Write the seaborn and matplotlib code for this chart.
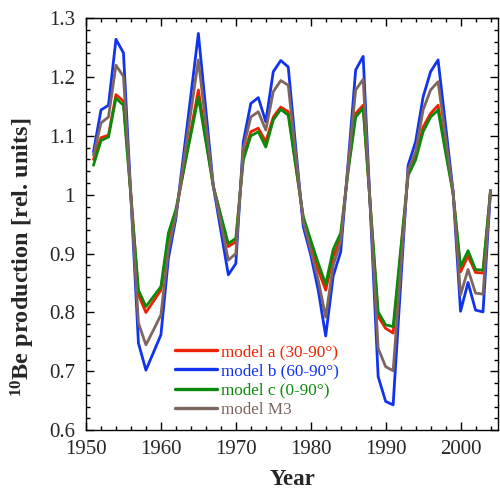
import pandas as pd
import matplotlib
matplotlib.use('Agg')
import matplotlib.pyplot as plt
import seaborn as sns
from matplotlib.ticker import MultipleLocator, FormatStrFormatter

years = list(range(1951, 2005))

model_a = [1.06, 1.097, 1.101, 1.170, 1.159, 1.0, 0.830, 0.800, 0.819, 0.838,
           0.925, 0.970, 1.039, 1.109, 1.178, 1.096, 1.014, 0.963, 0.912, 0.920,
           1.065, 1.107, 1.113, 1.090, 1.132, 1.149, 1.141, 1.050, 0.960, 0.915,
           0.872, 0.838, 0.895, 0.926, 1.045, 1.138, 1.152, 0.972, 0.793, 0.773,
           0.765, 0.900, 1.033, 1.065, 1.115, 1.138, 1.152, 1.078, 1.004, 0.869,
           0.896, 0.868, 0.867, 1.007]
model_b = [1.073, 1.144, 1.152, 1.264, 1.241, 0.995, 0.748, 0.702, 0.732, 0.762,
           0.892, 0.960, 1.065, 1.169, 1.274, 1.144, 1.014, 0.939, 0.864, 0.883,
           1.090, 1.155, 1.165, 1.124, 1.209, 1.228, 1.217, 1.080, 0.946, 0.898,
           0.838, 0.760, 0.862, 0.903, 1.055, 1.212, 1.235, 0.963, 0.691, 0.649,
           0.643, 0.846, 1.050, 1.090, 1.166, 1.209, 1.229, 1.118, 1.006, 0.802,
           0.851, 0.804, 0.801, 1.007]
model_c = [1.050, 1.092, 1.098, 1.164, 1.152, 0.995, 0.838, 0.810, 0.827, 0.844,
           0.935, 0.975, 1.039, 1.102, 1.166, 1.090, 1.014, 0.965, 0.917, 0.926,
           1.059, 1.100, 1.107, 1.081, 1.127, 1.145, 1.135, 1.049, 0.963, 0.923,
           0.884, 0.848, 0.907, 0.935, 1.040, 1.132, 1.147, 0.974, 0.801, 0.779,
           0.776, 0.905, 1.033, 1.059, 1.107, 1.132, 1.144, 1.072, 1.002, 0.878,
           0.905, 0.873, 0.872, 1.007]
model_m3 = [1.067, 1.122, 1.132, 1.220, 1.201, 0.995, 0.782, 0.745, 0.770, 0.796,
            0.906, 0.965, 1.053, 1.141, 1.229, 1.120, 1.014, 0.952, 0.889, 0.900,
            1.079, 1.132, 1.141, 1.110, 1.175, 1.194, 1.186, 1.068, 0.954, 0.906,
            0.855, 0.792, 0.880, 0.920, 1.050, 1.178, 1.196, 0.968, 0.739, 0.708,
            0.701, 0.870, 1.042, 1.073, 1.144, 1.178, 1.192, 1.098, 1.004, 0.830,
            0.873, 0.833, 0.831, 1.007]

labels = ['model a (30-90°)', 'model b (60-90°)', 'model c (0-90°)', 'model M3']
colors = ['#ee2200', '#1133ee', '#0a8a0a', '#7d6660']

df = pd.DataFrame({
    'Year': years * 4,
    'value': model_a + model_b + model_c + model_m3,
    'model': [l for l in labels for _ in years],
})

sns.set_style('ticks')
plt.rcParams['font.family'] = ['Liberation Serif', 'DejaVu Serif']
plt.rcParams['mathtext.fontset'] = 'custom'
plt.rcParams['mathtext.rm'] = 'Liberation Serif'
plt.rcParams['mathtext.bf'] = 'Liberation Serif:bold'

fig = plt.figure(figsize=(5, 4.9), dpi=100)
ax = fig.add_axes([0.172, 0.122, 0.824, 0.841])
sns.lineplot(data=df, x='Year', y='value', hue='model', hue_order=labels,
             palette=colors, linewidth=2.0, ax=ax)

ax.set_xlim(1950, 2005)
ax.set_ylim(0.6, 1.3)
ax.xaxis.set_major_locator(MultipleLocator(10))
ax.xaxis.set_minor_locator(MultipleLocator(2))
ax.yaxis.set_major_locator(MultipleLocator(0.1))
ax.yaxis.set_minor_locator(MultipleLocator(0.02))
ax.yaxis.set_major_formatter(FormatStrFormatter('%g'))
ax.tick_params(which='both', direction='in', top=True, right=True,
               labelsize=15, color='black', width=1)
ax.tick_params(axis='x', which='major', pad=7)
ax.tick_params(axis='y', which='major', pad=8)
ax.tick_params(which='major', length=6)
ax.tick_params(which='minor', length=3)
for s in ax.spines.values():
    s.set_linewidth(1)
    s.set_color('black')

ax.set_xlabel('Year', fontsize=16.5, fontweight='bold', labelpad=7)
ax.set_ylabel(r'$\mathbf{^{10}}$Be production [rel. units]', fontsize=17.5,
              fontweight='bold')
ax.yaxis.set_label_coords(-0.118, 0.42)

leg = ax.legend(loc='upper left', bbox_to_anchor=(0.2, 0.225), frameon=False,
                fontsize=12.3, handlelength=2.45, handletextpad=0.25,
                labelspacing=0.18, borderaxespad=0, labelcolor='linecolor')
for line in leg.get_lines():
    line.set_linewidth(2.4)

plt.savefig('out.png', dpi=100)
